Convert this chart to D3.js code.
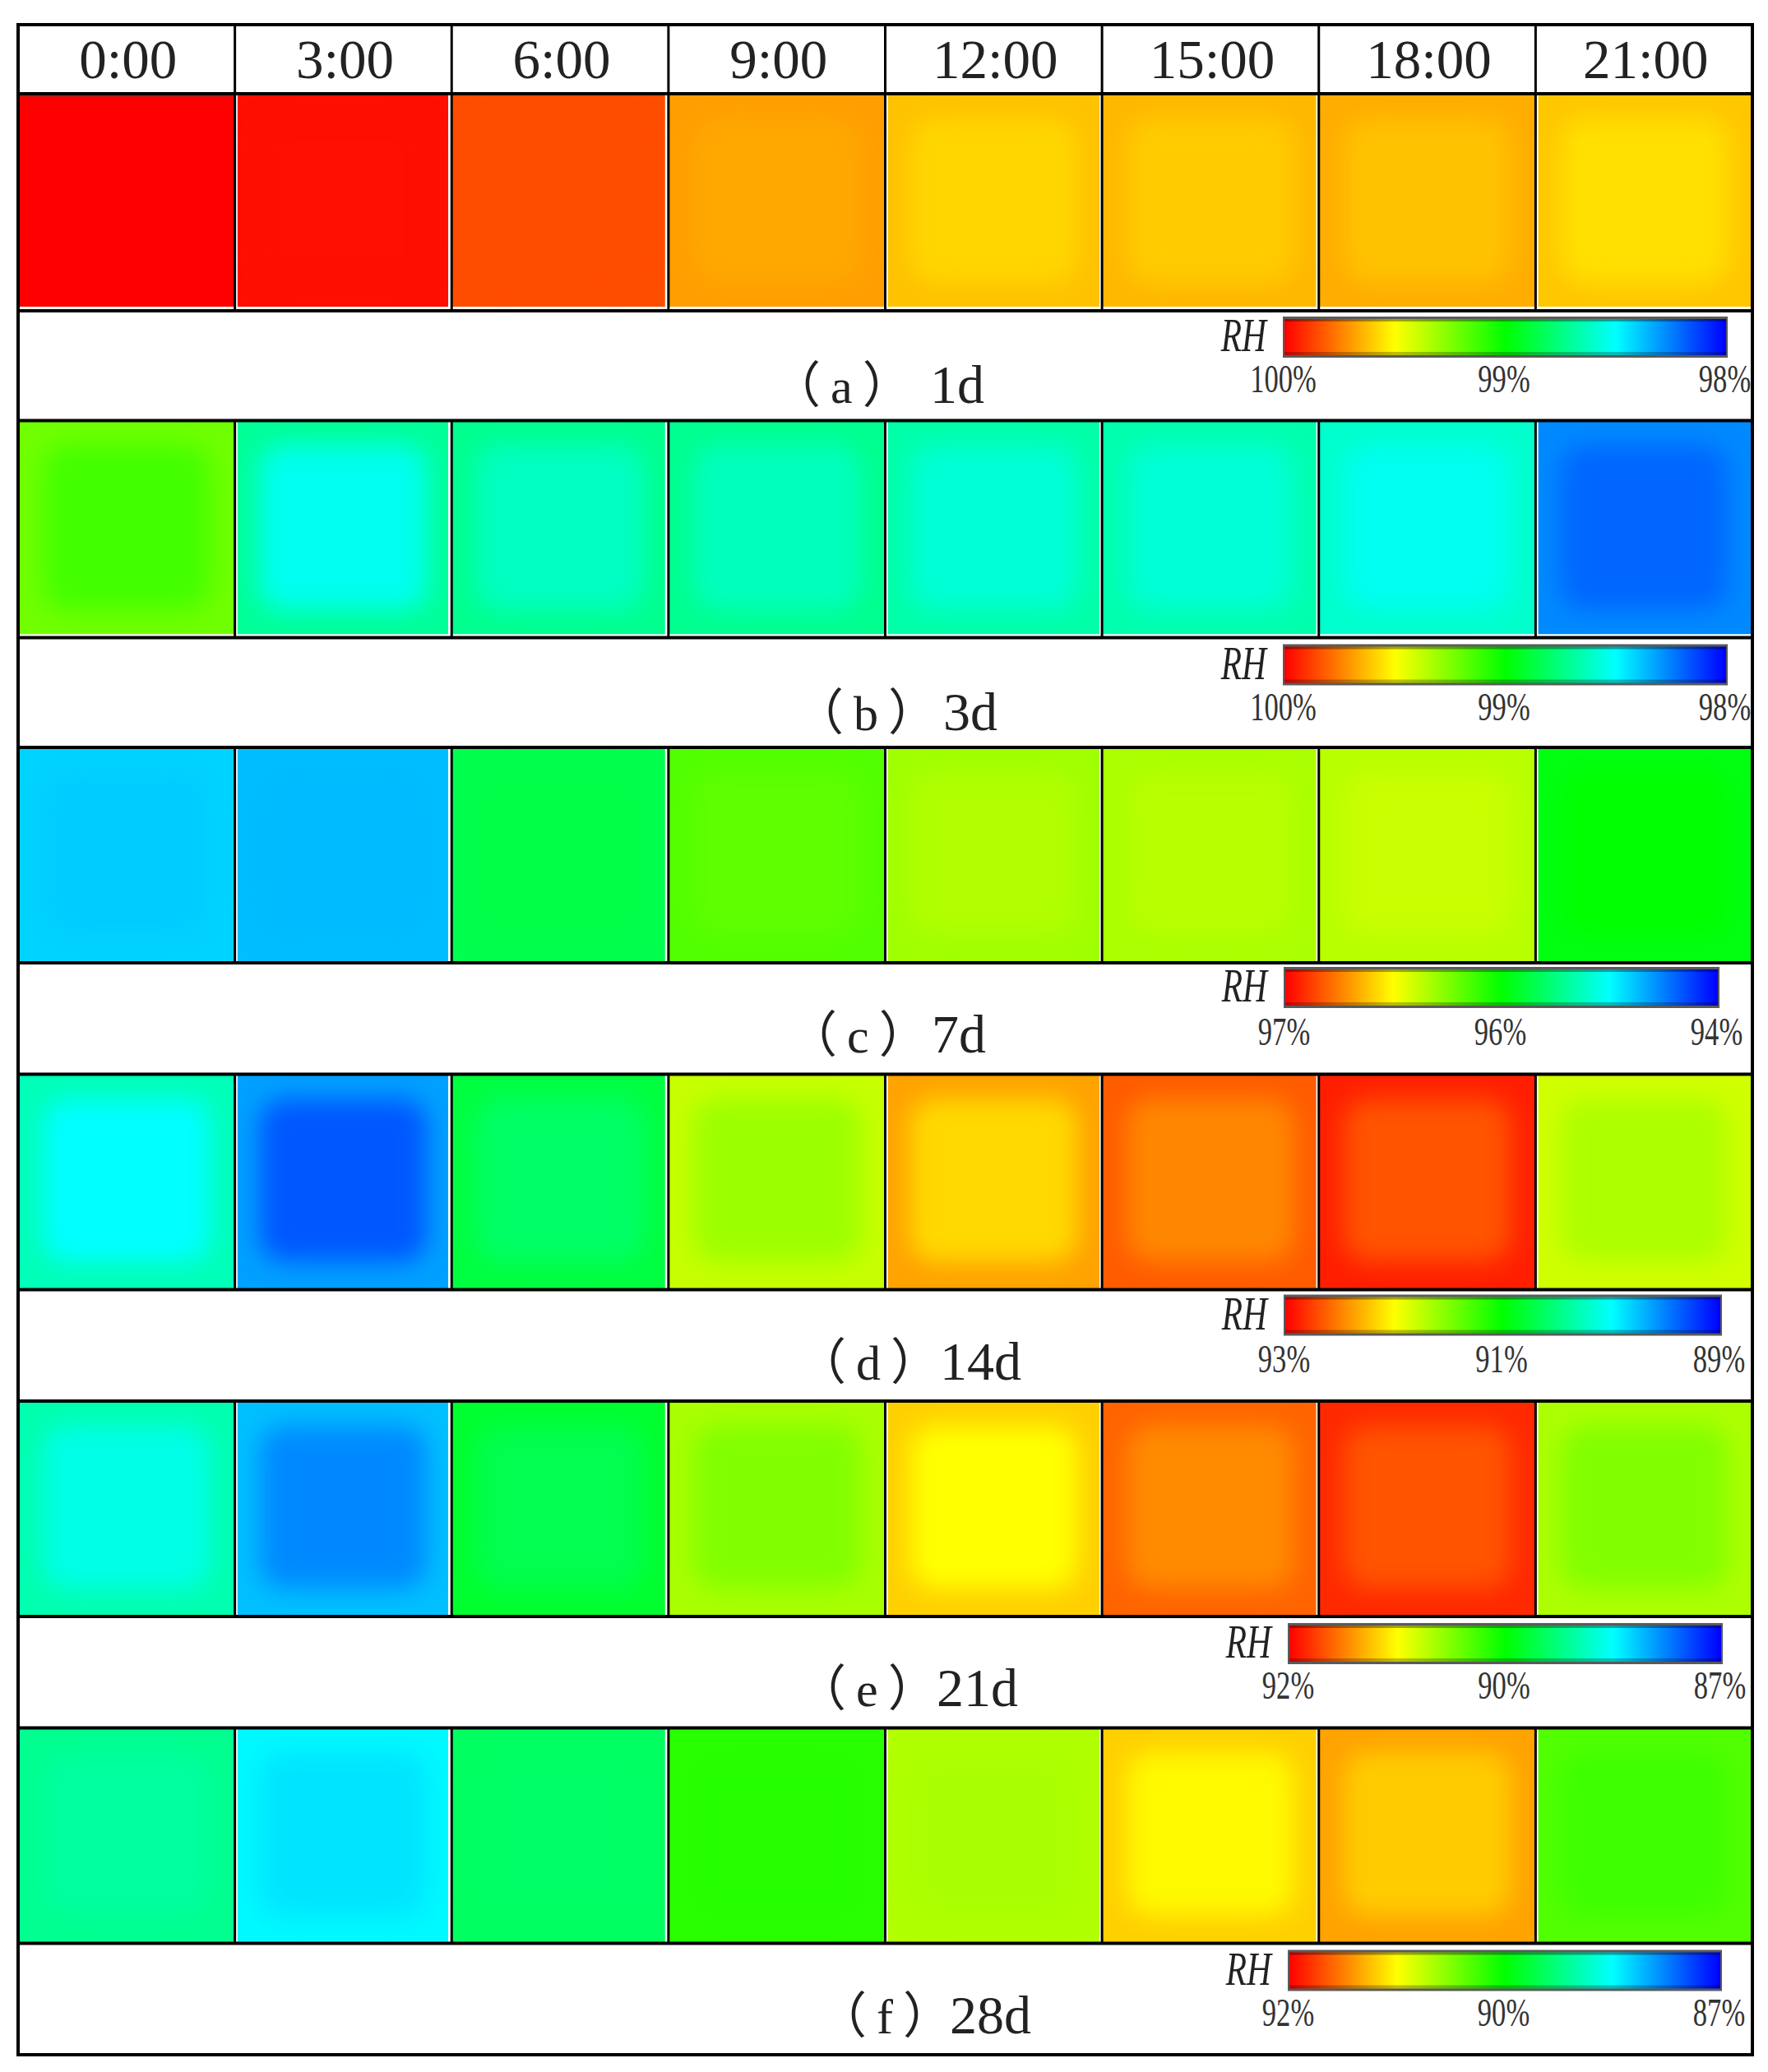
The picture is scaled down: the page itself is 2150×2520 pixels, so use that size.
<!DOCTYPE html>
<html>
<head>
<meta charset="utf-8">
<script src="https://cdn.jsdelivr.net/npm/d3@7/dist/d3.min.js"></script>
<style>
  html, body { margin: 0; padding: 0; background: #fff; }
</style>
</head>
<body>
<div id="chart"></div>
<script>
// categories
var hours = ["0:00", "3:00", "6:00", "9:00", "12:00", "15:00", "18:00", "21:00"];
var captions = ["（a）", "（b）", "（c）", "（d）", "（e）", "（f）"];
var ages = ["1d", "3d", "7d", "14d", "21d", "28d"];

// RH near the edge of each cell
var rhEdge = [
  [100.00, 99.97, 99.85, 99.69, 99.62, 99.64, 99.66, 99.61],
  [99.22, 98.70, 98.72, 98.72, 98.67, 98.66, 98.60, 98.27],
  [94.62, 94.56, 95.27, 95.74, 95.97, 96.00, 96.04, 95.45],
  [90.28, 89.63, 90.75, 91.78, 92.36, 92.64, 92.88, 91.82],
  [88.64, 87.94, 89.27, 90.33, 90.98, 91.51, 91.80, 90.35],
  [88.80, 88.22, 89.03, 89.70, 90.37, 90.98, 91.20, 89.90]
];
// RH in the middle of each cell
var rhCenter = [
  [100.00, 99.97, 99.85, 99.67, 99.58, 99.60, 99.62, 99.56],
  [99.13, 98.53, 98.62, 98.63, 98.58, 98.58, 98.53, 98.20],
  [94.60, 94.55, 95.29, 95.78, 96.02, 96.04, 96.09, 95.50],
  [90.00, 89.34, 90.60, 91.61, 92.15, 92.47, 92.67, 91.68],
  [88.37, 87.67, 89.11, 90.13, 90.75, 91.32, 91.59, 90.13],
  [88.72, 88.12, 89.00, 89.68, 90.33, 90.78, 91.00, 89.80]
];

// colour bar range for each panel
var rhTop = [100, 100, 97, 93, 92, 92];
var rhBottom = [98, 98, 94, 89, 87, 87];
var legendTicks = [
  ["100%", "99%", "98%"],
  ["100%", "99%", "98%"],
  ["97%", "96%", "94%"],
  ["93%", "91%", "89%"],
  ["92%", "90%", "87%"],
  ["92%", "90%", "87%"]
];
var rainbow = ["#ff0000", "#ffff00", "#00ff00", "#00ffff", "#0000ff"];

// layout, only for drawing
var gridLeft = 22, gridRight = 2131, gridTop = 30, gridBottom = 2499;
var headerBottom = 114;
var imageHeights = [264, 264, 262, 262, 262, 262];
var leftGap = [0, 3, 0, 0, 3, 0, 0, 3];
var rightGap = [0, 4, 4, 0, 3, 3, 0, 2];
var bottomGap = [5, 4, 1, 1, 1, 1];
var captionLeft = [968, 996, 988, 999, 999, 1024];
var ageLeft = [1131, 1147, 1133, 1143, 1139, 1155];
var captionBase = [376, 376, 371, 371, 371, 371];
var legendX0 = [1560, 1560, 1561, 1561, 1566, 1566];
var legendX1 = [2101, 2101, 2091, 2094, 2095, 2094];
var legendY = [271, 272, 267, 268, 270, 270];
var tickDrop = [92, 92, 95, 94, 92, 92];
var legendH = 50;

var svg = d3.select("#chart").append("svg")
  .attr("width", 2150)
  .attr("height", 2520)
  .style("display", "block");

var defs = svg.append("defs");

defs.append("filter")
  .attr("id", "soft")
  .attr("color-interpolation-filters", "sRGB")
  .attr("x", "-30%").attr("y", "-30%")
  .attr("width", "160%").attr("height", "160%")
  .append("feGaussianBlur")
  .attr("stdDeviation", 15);

var barGradient = defs.append("linearGradient").attr("id", "bar");
barGradient.selectAll("stop")
  .data(rainbow)
  .join("stop")
  .attr("offset", function(d, i) { return i / (rainbow.length - 1); })
  .attr("stop-color", function(d) { return d; });

var xScale = d3.scaleBand().domain(hours).range([gridLeft, gridRight]);
var yScale = d3.scaleBand().domain(ages).range([headerBottom, gridBottom]);

function colorFor(panel) {
  var top = rhTop[panel], bottom = rhBottom[panel];
  return d3.scaleLinear()
    .domain(rainbow.map(function(c, i) { return top + (bottom - top) * i / (rainbow.length - 1); }))
    .range(rainbow);
}

// header text
svg.selectAll(".hour")
  .data(hours)
  .join("text")
  .attr("class", "hour")
  .attr("x", function(d) { return xScale(d) + xScale.bandwidth() / 2 + 2; })
  .attr("y", 95)
  .attr("text-anchor", "middle")
  .attr("font-family", "'Liberation Serif'")
  .attr("font-size", 67)
  .attr("fill", "#222")
  .text(function(d) { return d; });

ages.forEach(function(age, p) {
  var panel = svg.append("g").attr("transform", "translate(0," + yScale(age) + ")");
  var color = colorFor(p);
  var imageHeight = imageHeights[p];

  // the cells, the centre is blurred so it fades out to the edge colour
  var cell = panel.selectAll(".cell")
    .data(hours)
    .join("g")
    .attr("class", "cell")
    .attr("clip-path", function(d, i) { return "url(#clip-" + p + "-" + i + ")"; });

  hours.forEach(function(h, i) {
    defs.append("clipPath")
      .attr("id", "clip-" + p + "-" + i)
      .append("rect")
      .attr("x", xScale(h) + leftGap[i])
      .attr("y", 0)
      .attr("width", xScale.bandwidth() - leftGap[i] - rightGap[i])
      .attr("height", imageHeight - bottomGap[p]);
  });

  cell.append("rect")
    .attr("x", function(d, i) { return xScale(d) + leftGap[i]; })
    .attr("y", 0)
    .attr("width", function(d, i) { return xScale.bandwidth() - leftGap[i] - rightGap[i]; })
    .attr("height", imageHeight - bottomGap[p])
    .attr("fill", function(d, i) { return color(rhEdge[p][i]); });

  cell.append("rect")
    .attr("x", function(d) { return xScale(d) + 30; })
    .attr("y", 30)
    .attr("width", xScale.bandwidth() - 60)
    .attr("height", imageHeight - 64)
    .attr("rx", 30)
    .attr("fill", function(d, i) { return color(rhCenter[p][i]); })
    .attr("filter", "url(#soft)");

  // caption, halt keeps the full width brackets from taking a whole em
  panel.append("text")
    .attr("x", captionLeft[p])
    .attr("y", captionBase[p])
    .attr("font-family", "'Liberation Serif','Noto Sans CJK SC'")
    .attr("font-size", 60)
    .attr("letter-spacing", 12)
    .style("font-feature-settings", "'halt'")
    .attr("fill", "#222")
    .text(captions[p]);

  panel.append("text")
    .attr("x", ageLeft[p])
    .attr("y", captionBase[p])
    .attr("font-family", "'Liberation Serif'")
    .attr("font-size", 66)
    .attr("fill", "#222")
    .text(age);

  // colour bar
  var x0 = legendX0[p], x1 = legendX1[p], y0 = legendY[p];
  panel.append("rect")
    .attr("x", x0).attr("y", y0)
    .attr("width", x1 - x0).attr("height", legendH)
    .attr("fill", "#5a5a5a");
  panel.append("rect")
    .attr("x", x0 + 2).attr("y", y0 + 3)
    .attr("width", x1 - x0 - 4).attr("height", legendH - 6)
    .attr("fill", "url(#bar)");
  panel.append("rect")
    .attr("x", x0 + 2).attr("y", y0 + 3)
    .attr("width", x1 - x0 - 4).attr("height", 3)
    .attr("fill", "#000").attr("opacity", 0.35);
  panel.append("rect")
    .attr("x", x0 + 2).attr("y", y0 + legendH - 7)
    .attr("width", x1 - x0 - 4).attr("height", 4)
    .attr("fill", "#000").attr("opacity", 0.25);

  panel.append("text")
    .attr("transform", "translate(" + (x0 - 20) + "," + (y0 + 42) + ") scale(0.74,1)")
    .attr("text-anchor", "end")
    .attr("font-family", "'Liberation Serif'")
    .attr("font-style", "italic")
    .attr("font-size", 56)
    .attr("fill", "#222")
    .text("RH");

  // tick labels of the bar
  var tickScale = d3.scalePoint().domain(legendTicks[p]).range([x0, x1 - 4]);
  var axis = panel.append("g")
    .attr("transform", "translate(0," + (y0 + tickDrop[p]) + ")")
    .call(d3.axisBottom(tickScale).tickSize(0).tickPadding(0));
  axis.select(".domain").remove();
  axis.selectAll("text")
    .attr("y", 0)
    .attr("dy", 0)
    .attr("transform", "scale(0.72,1)")
    .attr("font-family", "'Liberation Serif'")
    .attr("font-size", 48)
    .attr("fill", "#333");
});

// dark strip at the top of the first cell
svg.append("rect")
  .attr("x", xScale(hours[0]))
  .attr("y", headerBottom)
  .attr("width", xScale.bandwidth())
  .attr("height", 4)
  .attr("fill", "#c01818");

// rules
var rules = svg.append("g").attr("stroke", "#000");

var rowLines = [gridTop, gridBottom];
ages.forEach(function(age, p) {
  rowLines.push(yScale(age), yScale(age) + imageHeights[p]);
});
rules.selectAll(".rowLine")
  .data(rowLines)
  .join("line")
  .attr("class", "rowLine")
  .attr("x1", gridLeft - 2).attr("x2", gridRight + 2)
  .attr("y1", function(d) { return d; })
  .attr("y2", function(d) { return d; })
  .attr("stroke-width", 4);

// column rules only run through the header and the image rows
var spans = [[gridTop, headerBottom]];
ages.forEach(function(age, p) {
  spans.push([yScale(age), yScale(age) + imageHeights[p]]);
});
spans.forEach(function(s) {
  rules.selectAll(null)
    .data(hours.slice(1))
    .join("line")
    .attr("x1", function(d) { return xScale(d); })
    .attr("x2", function(d) { return xScale(d); })
    .attr("y1", s[0]).attr("y2", s[1])
    .attr("stroke-width", 3);
});

rules.selectAll(".edge")
  .data([gridLeft, gridRight])
  .join("line")
  .attr("class", "edge")
  .attr("x1", function(d) { return d; })
  .attr("x2", function(d) { return d; })
  .attr("y1", gridTop).attr("y2", gridBottom)
  .attr("stroke-width", 4);
</script>
</body>
</html>
